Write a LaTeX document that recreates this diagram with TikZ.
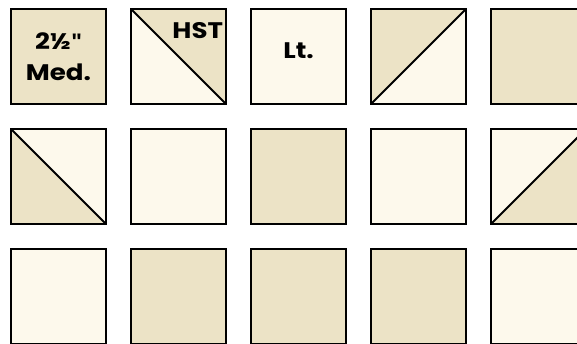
\documentclass[tikz,border=0pt]{standalone}
\usepackage{fontspec}
\setsansfont{Poppins}[FakeStretch=1.16]
\newfontfamily\quotefont{Liberation Sans}
\usetikzlibrary{positioning}
\definecolor{medfab}{RGB}{236,227,198}
\definecolor{ltfab}{RGB}{253,249,236}

\begin{document}
\begin{tikzpicture}[x=1pt, y=1pt, outer sep=0pt,
  patch/.style={draw, line width=2pt, minimum size=95pt, inner sep=0pt},
  med/.style={patch, fill=medfab},
  lt/.style={patch, fill=ltfab},
  seam/.style={line width=2pt},
  tag/.style={font=\sffamily\bfseries\fontsize{22.5}{31}\selectfont, align=center, inner sep=0pt}]
\path[use as bounding box] (0,0) rectangle (577,-343);
\clip (0,0) rectangle (577,-343);
% row 1
\node[med, tag] (A1) at (58.5,-56.5) {2½{\quotefont"}\\Med.};
\node[lt] (A2) [right=25pt of A1] {};
\node[lt] (A3) [right=25pt of A2] {};
\node[lt] (A4) [right=25pt of A3] {};
\node[med] (A5) [right=25pt of A4] {};
% row 2
\node[med] (B1) [below=25pt of A1] {};
\node[lt] (B2) [right=25pt of B1] {};
\node[med] (B3) [right=25pt of B2] {};
\node[lt] (B4) [right=25pt of B3] {};
\node[lt] (B5) [right=25pt of B4] {};
% row 3
\node[lt] (C1) [below=25pt of B1] {};
\node[med] (C2) [right=25pt of C1] {};
\node[med] (C3) [right=25pt of C2] {};
\node[med] (C4) [right=25pt of C3] {};
\node[lt] (C5) [right=25pt of C4] {};
% half square triangles
\fill[medfab] (A2.north west) -- (A2.north east) -- (A2.south east) -- cycle;
\fill[medfab] (A4.north west) -- (A4.north east) -- (A4.south west) -- cycle;
\fill[ltfab] (B1.north west) -- (B1.north east) -- (B1.south east) -- cycle;
\fill[medfab] (B5.south west) -- (B5.north east) -- (B5.south east) -- cycle;
\draw[seam] (A2.north west) -- (A2.south east);
\draw[seam] (A4.south west) -- (A4.north east);
\draw[seam] (B1.north west) -- (B1.south east);
\draw[seam] (B5.south west) -- (B5.north east);
\draw[seam] (A2.south west) rectangle (A2.north east);
\draw[seam] (A4.south west) rectangle (A4.north east);
\draw[seam] (B1.south west) rectangle (B1.north east);
\draw[seam] (B5.south west) rectangle (B5.north east);
% labels
\node[tag] (hst) [below left=13pt and 3pt of A2.north east] {HST};
\node[tag] (lt) [below=34pt of A3.north] {Lt.};
\end{tikzpicture}
\end{document}
